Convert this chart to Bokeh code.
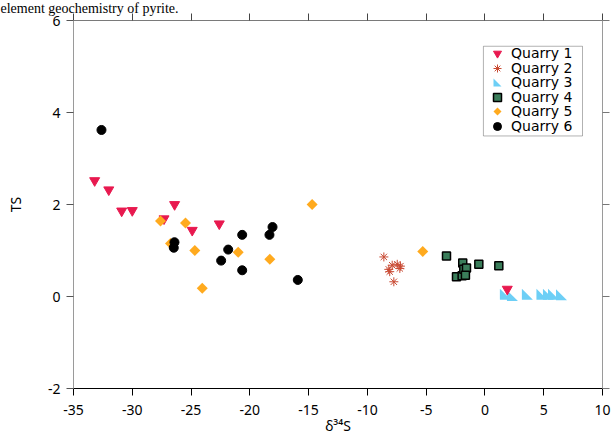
import numpy as np
from bokeh.plotting import figure
from bokeh.models import (Range1d, LinearAxis, FixedTicker, Legend, LegendItem,
                          CustomJS, BoxAnnotation)
from bokeh.embed import file_html
from bokeh.resources import INLINE

# ---------------- data ----------------
x_ticks = [-35, -30, -25, -20, -15, -10, -5, 0, 5, 10]
y_ticks = [-2, 0, 2, 4, 6]

q1_x = [-33.2, -32.0, -30.9, -30.0, -27.3, -26.4, -24.9, -22.6, 1.9]
q1_y = [2.52, 2.32, 1.86, 1.87, 1.69, 2.00, 1.44, 1.58, 0.16]

q2_x = [-8.60, -8.18, -7.89, -7.46, -7.24, -7.75, -8.10, -7.19]
q2_y = [0.86, 0.59, 0.68, 0.70, 0.61, 0.32, 0.54, 0.66]

q3_x = [1.74, 2.34, 3.61, 4.85, 5.40, 5.83, 6.51]
q3_y = [0.05, 0.02, 0.05, 0.05, 0.05, 0.05, 0.04]

q4_x = [-3.27, -2.42, -1.89, -1.94, -1.80, -1.57, -1.66, -0.52, 1.18]
q4_y = [0.88, 0.43, 0.73, 0.45, 0.59, 0.62, 0.46, 0.70, 0.67]

q5_x = [-27.6, -25.47, -24.68, -24.05, -20.99, -18.30, -14.70, -26.75, -5.29]
q5_y = [1.64, 1.60, 1.00, 0.18, 0.96, 0.81, 2.00, 1.15, 0.98]

q6_x = [-32.62, -26.41, -26.47, -22.44, -21.84, -20.65, -20.65, -18.33, -18.07, -15.92]
q6_y = [3.62, 1.18, 1.06, 0.78, 1.02, 1.34, 0.57, 1.34, 1.51, 0.36]

labels = ["Quarry 1", "Quarry 2", "Quarry 3", "Quarry 4", "Quarry 5", "Quarry 6"]
caption = "element geochemistry of pyrite."

# ---------------- figure ----------------
p = figure(width=613, height=437, output_backend="svg", toolbar_location=None,
           x_range=Range1d(-35, 10), y_range=Range1d(-2, 6),
           min_border_left=73, min_border_right=11, min_border_top=19,
           min_border_bottom=48, x_axis_location=None, y_axis_location=None)
p.xgrid.visible = False
p.ygrid.visible = False
p.outline_line_color = None
p.background_fill_color = "white"
p.border_fill_color = "white"

# page caption above the chart
p.title.text = caption
p.title.text_font = "Liberation Serif"
p.title.text_font_size = "14px"
p.title.text_font_style = "normal"
p.title.text_color = "black"
p.title.align = "left"
p.title.standoff = -4
p.title.offset = -73

FONT = "Noto Sans"

def style_axis(ax, line_color, show_labels, ticks):
    ax.axis_line_color = line_color
    ax.major_tick_line_color = line_color
    ax.major_tick_out = 7
    ax.major_tick_in = 0
    ax.minor_tick_out = 0
    ax.minor_tick_in = 0
    ax.major_label_text_font = FONT
    ax.axis_label_text_font = FONT
    ax.axis_label_text_font_style = "normal"
    ax.axis_label_text_color = "black"
    ax.major_label_text_color = "black"
    if show_labels:
        ax.major_label_text_font_size = "14px"
        ax.major_label_overrides = {t: str(t) for t in ticks}
    else:
        ax.major_label_text_font_size = "1px"
        ax.major_label_overrides = {t: "" for t in ticks}
        ax.major_label_standoff = 0

bottom = LinearAxis(ticker=FixedTicker(ticks=x_ticks), axis_label="δ³⁴S")
style_axis(bottom, "black", True, x_ticks)
bottom.major_label_standoff = 9
bottom.axis_label_standoff = -2
bottom.axis_label_text_font_size = "14px"
p.add_layout(bottom, "below")

left = LinearAxis(ticker=FixedTicker(ticks=y_ticks), axis_label="TS")
style_axis(left, "#9a9a9a", True, y_ticks)
left.major_tick_line_color = "#555555"
left.major_label_standoff = 6
left.axis_label_standoff = 20
left.axis_label_text_font_size = "14px"
p.add_layout(left, "left")

top = LinearAxis(ticker=FixedTicker(ticks=x_ticks))
style_axis(top, "#7a7a7a", False, x_ticks)
top.major_tick_line_color = "#444444"
p.add_layout(top, "above")

right = LinearAxis(ticker=FixedTicker(ticks=y_ticks))
style_axis(right, "#9a9a9a", False, y_ticks)
right.major_tick_line_color = "#777777"
p.add_layout(right, "right")

# ---------------- custom markers ----------------
def marker_js(points, color):
    pts = ";".join(f"ctx.lineTo({x} * r, {y} * r)" for x, y in points[1:])
    x0, y0 = points[0]
    return CustomJS(code=f"""
try {{
  let d = cb_data;
  let ctx = d && d.ctx;
  let r = (d && d.r != null) ? d.r : 5.5;
  if (!ctx) {{
    for (let k = 0; k < arguments.length; k++) {{
      const a = arguments[k];
      if (a && typeof a.beginPath === "function") {{
        ctx = a;
        if (typeof arguments[k + 2] === "number") r = arguments[k + 2];
        break;
      }}
    }}
  }}
  if (ctx) {{
    ctx.beginPath();
    ctx.moveTo({x0} * r, {y0} * r);
    {pts};
    ctx.closePath();
    ctx.fillStyle = "{color}";
    ctx.fill();
  }}
}} catch (e) {{}}
""")

rtri_js = marker_js([(-1, -1), (-1, 1), (1, 1)], "#6DCFF6")
dia_js = marker_js([(0, -1), (1, 0), (0, 1), (-1, 0)], "#FFAA1E")

# ---------------- legend frame (drawn beneath the marks) ----------------
legend_box = BoxAnnotation(left=-0.13, right=8.30, top=5.44, bottom=3.49,
                           fill_color="white", fill_alpha=1,
                           line_color="black", line_width=1, level="underlay")
p.add_layout(legend_box)

# ---------------- glyphs ----------------
r3 = p.scatter(q3_x, q3_y, marker="@rtri", defs={"@rtri": rtri_js}, size=11,
               fill_color="#6DCFF6", line_color=None)
r1 = p.scatter(q1_x, q1_y, marker="inverted_triangle", size=10,
               fill_color="#E8194F", line_color="#E8194F")
r2 = p.scatter(q2_x, q2_y, marker="asterisk", size=9,
               line_color="#C94A33", line_width=1)
r4 = p.scatter(q4_x, q4_y, marker="square", size=8,
               fill_color="#3A7D5A", line_color="black", line_width=1.5)
r5 = p.scatter(q5_x, q5_y, marker="@dia", defs={"@dia": dia_js}, size=11,
               fill_color="#FFAA1E", line_color=None)
r6 = p.scatter(q6_x, q6_y, marker="circle", size=9,
               fill_color="black", line_color="black")

# one single-row legend per entry so the rows can sit as tightly as the original
row_step = 14.6
for k, (lab, rend) in enumerate(zip(labels, [r1, r2, r3, r4, r5, r6])):
    lg = Legend(items=[LegendItem(label=lab, renderers=[rend])],
                location=(414, 325 - k * row_step))
    lg.label_text_font = "DejaVu Sans"
    lg.label_text_font_size = "14px"
    lg.label_text_color = "black"
    lg.label_height = 20
    lg.glyph_height = 20
    lg.glyph_width = 20
    lg.label_standoff = 4
    lg.spacing = 0
    lg.padding = 0
    lg.margin = 0
    lg.border_line_color = None
    lg.background_fill_alpha = 0
    p.add_layout(lg)

open("out.html", "w").write(file_html(p, INLINE))
